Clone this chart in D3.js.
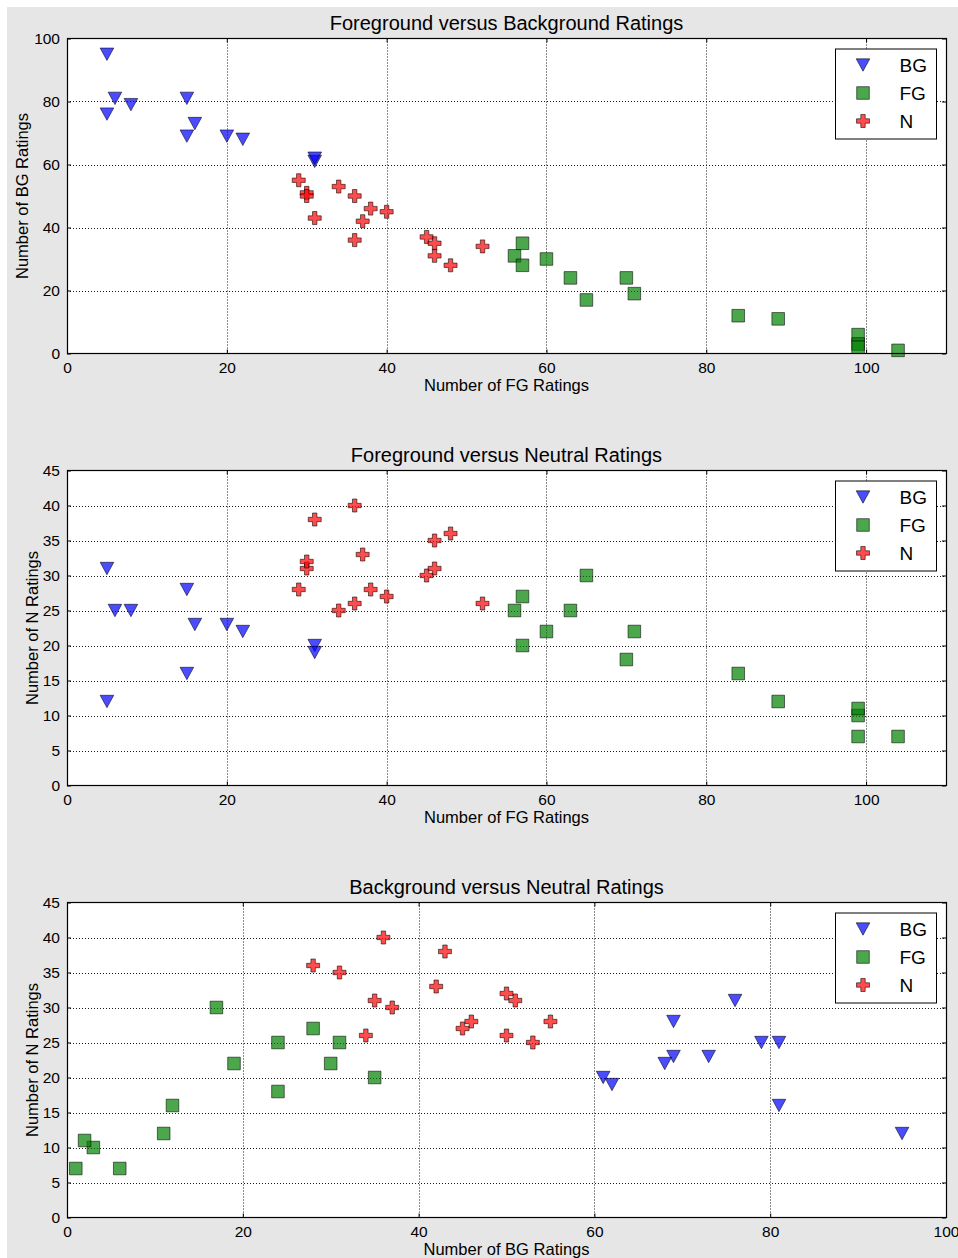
<!DOCTYPE html>
<html>
<head>
<meta charset="utf-8">
<script src="https://cdn.jsdelivr.net/npm/d3@7"></script>
<style>
  html, body { margin: 0; padding: 0; background: #ffffff; }
  svg { display: block; font-family: "Liberation Sans", Arial, sans-serif; }
</style>
</head>
<body>
<svg id="chart" width="958" height="1258"></svg>
<script>
// ---- Data (each rating item: FG, BG, N counts) ----
const seriesNames = ["BG", "FG", "N"];

const bgFG = [5, 5, 6, 8, 15, 15, 16, 20, 22, 31, 31];
const bgBG = [95, 76, 81, 79, 81, 69, 73, 69, 68, 61, 62];
const bgN  = [12, 31, 25, 25, 16, 28, 23, 23, 22, 20, 19];

const fgFG = [56, 57, 57, 60, 63, 65, 70, 71, 84, 89, 99, 99, 99, 104];
const fgBG = [31, 35, 28, 30, 24, 17, 24, 19, 12, 11, 6, 3, 2, 1];
const fgN  = [25, 20, 27, 22, 25, 30, 18, 22, 16, 12, 7, 10, 11, 7];

const nFG = [29, 30, 30, 31, 34, 36, 38, 37, 40, 36, 45, 46, 46, 48, 52];
const nBG = [55, 51, 50, 43, 53, 50, 46, 42, 45, 36, 37, 35, 31, 28, 34];
const nN  = [28, 31, 32, 38, 25, 26, 28, 33, 27, 40, 30, 31, 35, 36, 26];

const titles = ["Foreground versus Background Ratings", "Foreground versus Neutral Ratings", "Background versus Neutral Ratings"];
const xLabels = ["Number of FG Ratings", "Number of FG Ratings", "Number of BG Ratings"];
const yLabels = ["Number of BG Ratings", "Number of N Ratings", "Number of N Ratings"];
const xKeys = ["fg", "fg", "bg"];
const yKeys = ["bg", "n", "n"];
const xDomains = [[0, 110], [0, 110], [0, 100]];
const yDomains = [[0, 100], [0, 45], [0, 45]];
const xTickVals = [[0, 20, 40, 60, 80, 100], [0, 20, 40, 60, 80, 100], [0, 20, 40, 60, 80, 100]];
const yTickVals = [[0, 20, 40, 60, 80, 100], [0, 5, 10, 15, 20, 25, 30, 35, 40, 45], [0, 5, 10, 15, 20, 25, 30, 35, 40, 45]];

// ---- Build point records ----
function rows(fg, bg, n, series) {
  return fg.map((d, i) => ({ fg: fg[i], bg: bg[i], n: n[i], series }));
}
const allPoints = [
  ...rows(bgFG, bgBG, bgN, "BG"),
  ...rows(fgFG, fgBG, fgN, "FG"),
  ...rows(nFG, nBG, nN, "N")
];

// ---- Styles ----
const colors = { BG: "#0000ff", FG: "#008000", N: "#ff0000" };
const W = 958, H = 1258;
const left = 67, right = 946, plotH = 315;
const tops = [38.5, 470.5, 902.5];
const yLabelX = [28, 38, 38];

const svg = d3.select("#chart");
svg.append("rect").attr("x", 7).attr("y", 7).attr("width", W - 7).attr("height", H - 7).attr("fill", "#e6e6e6");

// marker symbol paths centered at 0,0
function markerPath(series) {
  if (series === "BG") {
    const w = 6.8, h = 6.2;
    return `M${-w},${-h}L${w},${-h}L0,${h}Z`;
  }
  if (series === "FG") {
    const s = 6.3;
    return `M${-s},${-s}L${s},${-s}L${s},${s}L${-s},${s}Z`;
  }
  const a = 6.5, b = 2.2;
  return `M${-b},${-a}L${b},${-a}L${b},${-b}L${a},${-b}L${a},${b}L${b},${b}L${b},${a}L${-b},${a}L${-b},${b}L${-a},${b}L${-a},${-b}L${-b},${-b}Z`;
}

tops.forEach((top, p) => {
  const bottom = top + plotH;
  const x = d3.scaleLinear().domain(xDomains[p]).range([left, right]);
  const y = d3.scaleLinear().domain(yDomains[p]).range([bottom, top]);
  const g = svg.append("g");

  g.append("rect").attr("x", left).attr("y", top).attr("width", right - left).attr("height", plotH).attr("fill", "#fff");

  // grid
  const grid = g.append("g").attr("stroke", "#000").attr("stroke-width", 1).attr("stroke-dasharray", "1,2").attr("opacity", 0.9);
  xTickVals[p].forEach(v => {
    const px = Math.round(x(v)) + 0.5;
    if (v === xDomains[p][0] || v === xDomains[p][1]) return;
    grid.append("line").attr("x1", px).attr("x2", px).attr("y1", top).attr("y2", bottom);
  });
  yTickVals[p].forEach(v => {
    const py = Math.round(y(v)) + 0.5;
    if (v === yDomains[p][0] || v === yDomains[p][1]) return;
    grid.append("line").attr("x1", left).attr("x2", right).attr("y1", py).attr("y2", py);
  });

  // axes via d3 (inward ticks)
  const xAxisB = d3.axisBottom(x).tickValues(xTickVals[p]).tickSize(-4).tickPadding(8).tickFormat(d3.format("d"));
  const xAxisT = d3.axisTop(x).tickValues(xTickVals[p]).tickSize(-4).tickFormat("");
  const yAxisL = d3.axisLeft(y).tickValues(yTickVals[p]).tickSize(-4).tickPadding(7).tickFormat(d3.format("d"));
  const yAxisR = d3.axisRight(y).tickValues(yTickVals[p]).tickSize(-4).tickFormat("");

  [["b", xAxisB, `translate(0,${bottom})`], ["t", xAxisT, `translate(0,${top})`],
   ["l", yAxisL, `translate(${left},0)`], ["r", yAxisR, `translate(${right},0)`]].forEach(([k, ax, tr]) => {
    const a = g.append("g").attr("transform", tr).call(ax);
    a.select(".domain").remove();
    a.selectAll(".tick line").attr("stroke", "#000").attr("stroke-width", 1);
    a.selectAll(".tick text").attr("fill", "#000").attr("font-size", 15.5).attr("font-family", "Liberation Sans, Arial, sans-serif");
  });

  // points
  g.append("g").selectAll("path").data(allPoints).join("path")
    .attr("d", d => markerPath(d.series))
    .attr("transform", d => `translate(${x(d[xKeys[p]])},${y(d[yKeys[p]])})`)
    .attr("fill", d => colors[d.series])
    .attr("fill-opacity", 0.7)
    .attr("stroke", "#000")
    .attr("stroke-opacity", 0.55)
    .attr("stroke-width", 1);

  // frame
  g.append("rect").attr("x", left + 0.5).attr("y", top).attr("width", right - left).attr("height", plotH)
    .attr("fill", "none").attr("stroke", "#000").attr("stroke-width", 1.2);

  // title
  g.append("text").attr("x", (left + right) / 2).attr("y", top - 9).attr("text-anchor", "middle")
    .attr("font-size", 20).attr("fill", "#000").text(titles[p]);
  // x label
  g.append("text").attr("x", (left + right) / 2).attr("y", bottom + 37).attr("text-anchor", "middle")
    .attr("font-size", 16.5).attr("fill", "#000").text(xLabels[p]);
  // y label
  g.append("text").attr("transform", `translate(${yLabelX[p]},${(top + bottom) / 2}) rotate(-90)`)
    .attr("text-anchor", "middle").attr("font-size", 16.5).attr("fill", "#000").text(yLabels[p]);

  // legend
  const lg = g.append("g").attr("transform", `translate(835.5,${top + 10.5})`);
  lg.append("rect").attr("width", 101).attr("height", 90).attr("fill", "#fff").attr("stroke", "#000").attr("stroke-width", 1);
  seriesNames.forEach((s, i) => {
    const cy = 16 + i * 28;
    lg.append("path").attr("d", markerPath(s)).attr("transform", `translate(27.5,${cy})`)
      .attr("fill", colors[s]).attr("fill-opacity", 0.7).attr("stroke", "#000").attr("stroke-opacity", 0.55);
    lg.append("text").attr("x", 64).attr("y", cy + 7).attr("font-size", 19).attr("fill", "#000").text(s);
  });
});
</script>
</body>
</html>
